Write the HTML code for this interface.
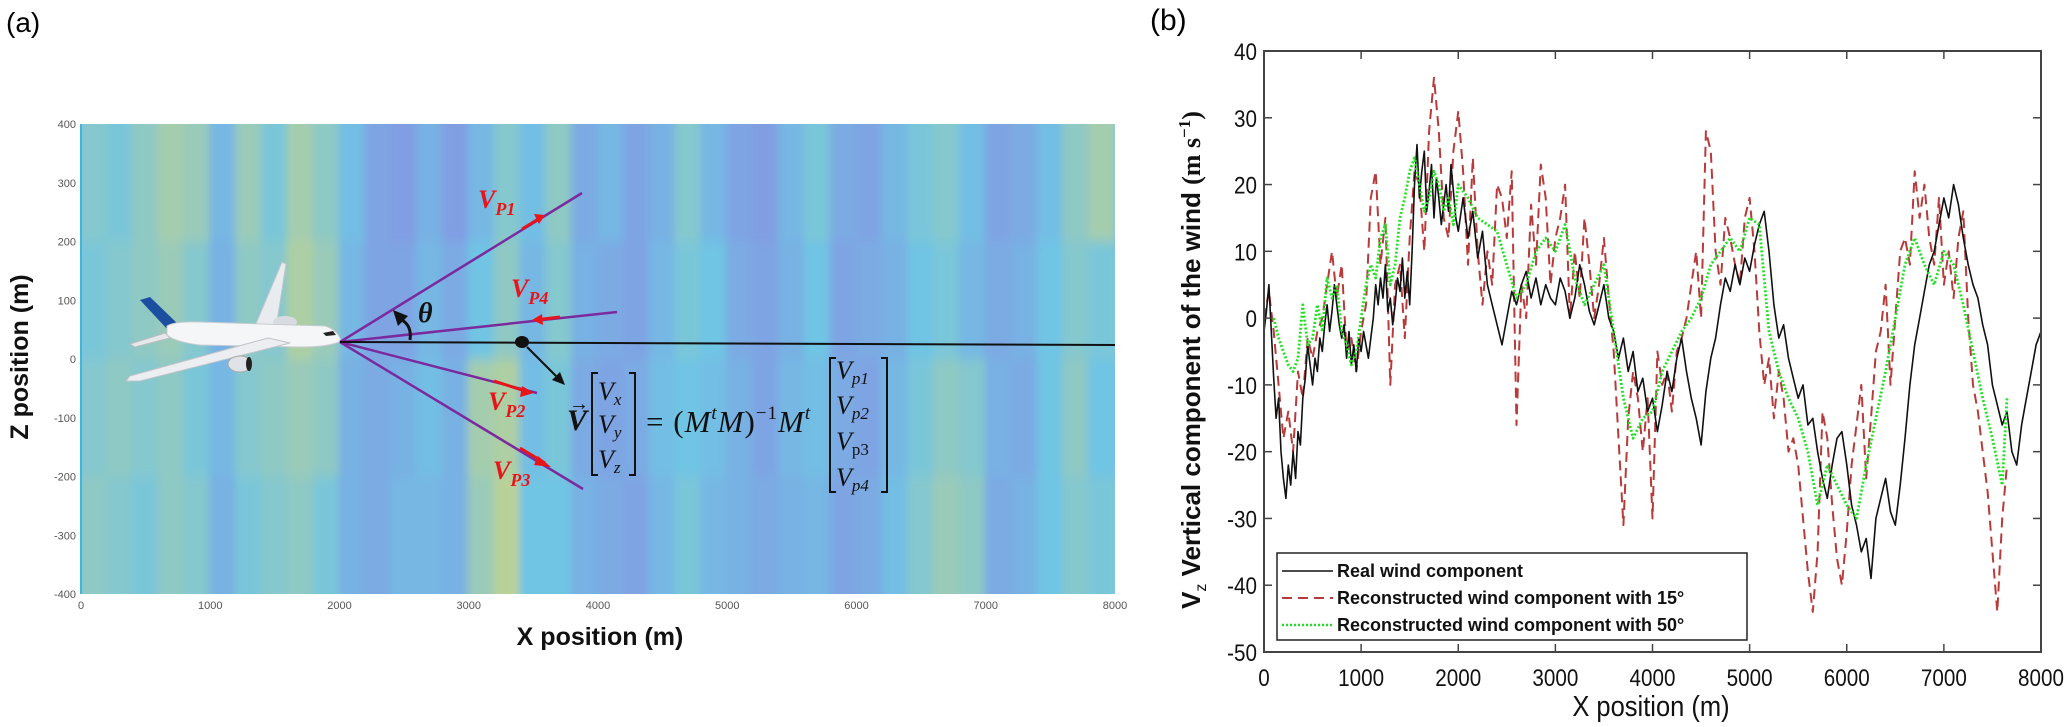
<!DOCTYPE html>
<html>
<head>
<meta charset="utf-8">
<style>
  html, body { margin: 0; padding: 0; background: #ffffff; }
  body { width: 2067px; height: 727px; overflow: hidden; }
  svg { display: block; }
  .tk { font-family: "Liberation Sans", sans-serif; }
</style>
</head>
<body>
<svg id="fig" width="2067" height="727" viewBox="0 0 2067 727" xmlns="http://www.w3.org/2000/svg">
  <defs>
    <filter id="soft" x="0" y="0" width="1" height="1">
      <feGaussianBlur stdDeviation="4 6"/>
    </filter>
    <clipPath id="clipA"><rect x="81" y="124" width="1034" height="470"/></clipPath>
    <clipPath id="clipB"><rect x="1264" y="51" width="777" height="601"/></clipPath>
  </defs>

  <!-- Panel (a) -->
  <g id="panelA">
    <text x="6" y="32" font-family="Liberation Sans, sans-serif" font-size="28" fill="#000">(a)</text>
    <rect x="81" y="124" width="1034" height="470" fill="#7ec3e3"/>
    <g id="heat" clip-path="url(#clipA)"></g>
    <line x1="81" y1="124" x2="81" y2="594" stroke="#3fb7d8" stroke-width="2"/>
    <g id="ticksA"></g>
    <text transform="translate(28,357) rotate(-90)" text-anchor="middle" font-family="Liberation Sans, sans-serif" font-size="25" font-weight="bold" fill="#111">Z position (m)</text>
    <text x="600" y="645" text-anchor="middle" font-family="Liberation Sans, sans-serif" font-size="25" font-weight="bold" fill="#111">X position (m)</text>

    <!-- airplane -->
    <g>
      <polygon points="255,326 282,262 286,264 276,328" fill="#e9ecef" stroke="#c2c6cc" stroke-width="1"/>
      <polygon points="140,300 150,297 180,326 168,330" fill="#1c4fa0"/>
      <polygon points="130,344 165,333 170,338 135,347" fill="#e6e8ec" stroke="#bbb" stroke-width="1"/>
      <ellipse cx="285" cy="322" rx="12" ry="6" fill="#d8dce2"/>
      <path d="M167,326 Q175,321 200,322 L325,326 Q338,330 341,341 Q330,347 300,347 L200,345 Q175,342 167,335 z" fill="#f4f6f8" stroke="#c8ccd2" stroke-width="1"/>
      <polygon points="268,338 130,376 126,381 140,381 290,343" fill="#eceef1" stroke="#c0c4ca" stroke-width="1"/>
      <ellipse cx="240" cy="364" rx="12" ry="8" fill="#dfe2e6" stroke="#aaa" stroke-width="1"/>
      <ellipse cx="249" cy="364" rx="3" ry="7" fill="#222"/>
      <path d="M323,333 L333,331 L336,335 L326,336 z" fill="#222"/>
    </g>

    <!-- lidar beams -->
    <g stroke="#7b2a9e" stroke-width="2.5">
      <line x1="340" y1="342" x2="582" y2="193"/>
      <line x1="340" y1="342" x2="617" y2="312"/>
      <line x1="340" y1="342" x2="537" y2="393"/>
      <line x1="340" y1="342" x2="583" y2="489"/>
    </g>
    <line x1="340" y1="342" x2="1115" y2="345" stroke="#111" stroke-width="2"/>
    <ellipse cx="522" cy="342" rx="7" ry="6" fill="#111"/>
    <line x1="527" y1="347" x2="558" y2="378" stroke="#111" stroke-width="2"/>
    <polygon points="565,385 552,380 560,372" fill="#111"/>

    <!-- red arrows on beams -->
    <g fill="#e8141a" stroke="#e8141a" stroke-width="3">
      <line x1="522" y1="229" x2="540" y2="218"/><polygon points="545,215 534,214 539,224" stroke="none"/>
      <line x1="560" y1="317" x2="535" y2="320"/><polygon points="532,320 542,314 543,325" stroke="none"/>
      <line x1="494" y1="381" x2="528" y2="392"/><polygon points="534,393 522,386 520,397" stroke="none"/>
      <line x1="520" y1="448" x2="545" y2="463"/><polygon points="551,467 538,456 534,465" stroke="none"/>
    </g>
    <g font-family="Liberation Serif, serif" font-style="italic" font-weight="bold" fill="#e8141a">
      <text x="478" y="208" font-size="26">V<tspan font-size="18" dy="7">P1</tspan></text>
      <text x="511" y="297" font-size="26">V<tspan font-size="18" dy="7">P4</tspan></text>
      <text x="488" y="410" font-size="26">V<tspan font-size="18" dy="7">P2</tspan></text>
      <text x="493" y="479" font-size="26">V<tspan font-size="18" dy="7">P3</tspan></text>
    </g>

    <!-- theta -->
    <path d="M410,340 Q412,326 402,320" fill="none" stroke="#111" stroke-width="3"/>
    <polygon points="393,310 408,316 398,326" fill="#111"/>
    <text x="418" y="322" font-family="Liberation Serif, serif" font-style="italic" font-weight="bold" font-size="28" fill="#111">θ</text>

    <!-- equation -->
    <g font-family="Liberation Serif, serif" fill="#111">
      <text x="567" y="430" font-size="30" font-style="italic" font-weight="bold">V</text>
      <text x="569" y="410" font-size="20" font-weight="bold">→</text>
      <path d="M598,373 L592,373 L592,475 L598,475 M629,373 L635,373 L635,475 L629,475" fill="none" stroke="#111" stroke-width="2"/>
      <text x="598" y="400" font-size="26" font-style="italic">V<tspan font-size="17" dy="5">x</tspan></text>
      <text x="598" y="433" font-size="26" font-style="italic">V<tspan font-size="17" dy="5">y</tspan></text>
      <text x="598" y="468" font-size="26" font-style="italic">V<tspan font-size="17" dy="5">z</tspan></text>
      <text x="646" y="432" font-size="31" letter-spacing="1">= (<tspan font-style="italic">M</tspan><tspan font-size="19" dy="-13" font-style="italic">t</tspan><tspan dy="13" font-style="italic">M</tspan>)<tspan font-size="19" dy="-13">−1</tspan><tspan dy="13" font-style="italic">M</tspan><tspan font-size="19" dy="-13" font-style="italic">t</tspan></text>
      <path d="M836,358 L830,358 L830,492 L836,492 M881,358 L887,358 L887,492 L881,492" fill="none" stroke="#111" stroke-width="2"/>
      <text x="836" y="379" font-size="26" font-style="italic">V<tspan font-size="17" dy="5">p1</tspan></text>
      <text x="836" y="414" font-size="26" font-style="italic">V<tspan font-size="17" dy="5">p2</tspan></text>
      <text x="836" y="450" font-size="26" font-style="italic">V<tspan font-size="17" dy="5" font-style="normal">p3</tspan></text>
      <text x="836" y="486" font-size="26" font-style="italic">V<tspan font-size="17" dy="5">p4</tspan></text>
    </g>
  </g>

  <!-- Panel (b) -->
  <g id="panelB">
    <text x="1150" y="30" font-family="Liberation Sans, sans-serif" font-size="30" fill="#000">(b)</text>
    <g id="seriesB" clip-path="url(#clipB)"></g>
    <rect x="1264" y="51" width="777" height="601" fill="none" stroke="#444" stroke-width="2"/>
    <g id="ticksB"></g>
    <text transform="translate(1200,360) rotate(-90)" text-anchor="middle" font-family="Liberation Sans, sans-serif" font-size="26" font-weight="bold" fill="#111">V<tspan font-size="16" dy="6" font-weight="normal">z</tspan><tspan dy="-6">  Vertical component of the wind </tspan><tspan font-family="Liberation Serif, serif">(m s</tspan><tspan font-family="Liberation Serif, serif" font-size="17" dy="-10">−1</tspan><tspan font-family="Liberation Serif, serif" dy="10">)</tspan></text>
    <text x="1651" y="716" text-anchor="middle" font-family="Liberation Sans, sans-serif" font-size="29" fill="#111" transform="translate(1651,0) scale(0.88,1) translate(-1651,0)">X position (m)</text>

    <g>
      <rect x="1277" y="553" width="470" height="87" fill="#fff" stroke="#222" stroke-width="1.5"/>
      <line x1="1282" y1="571" x2="1333" y2="571" stroke="#111" stroke-width="1.5"/>
      <line x1="1282" y1="598" x2="1333" y2="598" stroke="#b83a3a" stroke-width="2" stroke-dasharray="10,6"/>
      <line x1="1282" y1="625" x2="1333" y2="625" stroke="#22e022" stroke-width="2.5" stroke-dasharray="2,2"/>
      <g font-family="Liberation Sans, sans-serif" font-size="18" font-weight="bold" fill="#111">
        <text x="1337" y="577">Real wind component</text>
        <text x="1337" y="604">Reconstructed wind component with 15°</text>
        <text x="1337" y="631">Reconstructed wind component with 50°</text>
      </g>
    </g>
  </g>
</svg>

<script>
// ---------- Panel (a) heatmap data (tone -1 purple .. +1 yellow), columns of 200 m, rows of 200 m from top ----------
const heatRow0 = [0.2,0.1,0.3,0.5,0.4,-0.2,0.4,0.1,0.5,0.3,-0.1,-0.5,-0.6,-0.3,-0.6,-0.2,0.2,-0.1,0.3,-0.4,-0.2,-0.5,-0.3,0.2,-0.2,-0.5,-0.6,-0.2,0.1,-0.4,-0.5,-0.2,0.1,0.2,-0.1,-0.5,-0.4,-0.1,0.3,0.5];
const heatRow1 = [0.1,0.2,0.3,0.4,0.2,-0.3,0.3,0.2,0.6,0.4,-0.2,-0.5,-0.5,-0.2,-0.4,0.0,0.3,-0.2,0.2,-0.3,-0.4,-0.5,-0.2,0.1,0.0,-0.4,-0.5,-0.3,0.0,-0.5,-0.4,-0.3,0.0,0.1,-0.2,-0.4,-0.3,0.0,0.2,0.1];
const heatRow2 = [0.2,0.3,0.2,0.3,0.1,-0.2,0.2,0.3,0.4,0.3,-0.3,-0.4,-0.3,-0.1,-0.3,0.5,0.6,-0.1,0.1,-0.4,-0.5,-0.4,-0.1,0.0,-0.1,-0.3,-0.5,-0.2,-0.1,-0.4,-0.5,-0.2,0.1,0.3,0.2,-0.3,-0.4,0.0,0.3,0.0];
const heatRow3 = [0.3,0.2,0.1,0.3,0.2,-0.3,0.1,0.2,0.3,0.1,-0.3,-0.4,-0.2,-0.2,-0.3,0.4,0.7,0.0,0.0,-0.3,-0.4,-0.5,-0.2,0.1,-0.2,-0.3,-0.4,-0.3,-0.2,-0.5,-0.4,-0.1,0.2,0.4,0.3,-0.4,-0.3,0.0,0.2,0.1];
const heatRows = [heatRow0, heatRow1, heatRow2, heatRow3];
const xTicksA = [0,1000,2000,3000,4000,5000,6000,7000,8000];
const zTicksA = [400,300,200,100,0,-100,-200,-300,-400];

// ---------- Panel (b) data ----------
const xTicksB = [0,1000,2000,3000,4000,5000,6000,7000,8000];
const yTicksB = [40,30,20,10,0,-10,-20,-30,-40,-50];

const realX = [0,25,50,75,100,125,150,175,200,225,250,275,300,325,350,375,400,425,450,475,500,525,550,575,600,625,650,675,700,725,750,775,800,825,850,875,900,925,950,975,1000,1025,1050,1075,1100,1125,1150,1175,1200,1225,1250,1275,1300,1325,1350,1375,1400,1425,1450,1475,1500,1525,1550,1575,1600,1625,1650,1675,1700,1725,1750,1775,1800,1825,1850,1875,1900,1925,1950,1975,2000,2050,2100,2150,2200,2250,2300,2350,2400,2450,2500,2550,2600,2650,2700,2750,2800,2850,2900,2950,3000,3050,3100,3150,3200,3250,3300,3350,3400,3450,3500,3550,3600,3650,3700,3750,3800,3850,3900,3950,4000,4050,4100,4150,4200,4250,4300,4350,4400,4450,4500,4550,4600,4650,4700,4750,4800,4850,4900,4950,5000,5050,5100,5150,5200,5250,5300,5350,5400,5450,5500,5550,5600,5650,5700,5750,5800,5850,5900,5950,6000,6050,6100,6150,6200,6250,6300,6350,6400,6450,6500,6550,6600,6650,6700,6750,6800,6850,6900,6950,7000,7050,7100,7150,7200,7250,7300,7350,7400,7450,7500,7550,7600,7650,7700,7750,7800,7850,7900,7950,8000];
const realV = [-2,1,5,-2,-9,-15,-12,-20,-24,-27,-22,-25,-20,-24,-17,-19,-12,-9,-4,-7,-10,-6,-8,-3,-5,-1,2,-2,1,5,2,-1,-3,-1,-6,-2,-7,-4,-8,-3,-5,-2,-4,-6,-3,0,5,2,6,3,8,1,3,-1,2,6,4,9,3,7,2,10,20,26,18,22,25,16,19,23,15,21,18,14,17,20,16,23,19,15,13,18,12,16,9,13,5,2,-1,-4,0,4,2,5,7,3,6,2,5,3,2,6,4,0,3,8,5,1,-1,2,5,0,-2,-6,-3,-8,-5,-11,-9,-14,-12,-17,-13,-8,-11,-6,-3,-8,-12,-15,-19,-11,-6,-3,2,6,4,8,5,9,7,11,14,16,10,2,-3,-1,-6,-9,-12,-10,-16,-15,-20,-24,-27,-22,-18,-17,-22,-28,-31,-35,-33,-39,-30,-27,-24,-29,-31,-25,-18,-10,-4,0,4,8,10,14,18,15,20,17,12,8,5,3,-1,-4,-10,-13,-16,-14,-20,-22,-16,-12,-8,-4,-2,-6,-3,-1,-3,-2,-3];

const rec15X = [0,50,100,150,200,250,300,350,400,450,500,550,600,650,700,750,800,850,900,950,1000,1050,1100,1150,1200,1250,1300,1350,1400,1450,1500,1550,1600,1650,1700,1750,1800,1850,1900,1950,2000,2050,2100,2150,2200,2250,2300,2350,2400,2450,2500,2550,2600,2650,2700,2750,2800,2850,2900,2950,3000,3050,3100,3150,3200,3250,3300,3350,3400,3450,3500,3550,3600,3650,3700,3750,3800,3850,3900,3950,4000,4050,4100,4150,4200,4250,4300,4350,4400,4450,4500,4550,4600,4650,4700,4750,4800,4850,4900,4950,5000,5050,5100,5150,5200,5250,5300,5350,5400,5450,5500,5550,5600,5650,5700,5750,5800,5850,5900,5950,6000,6050,6100,6150,6200,6250,6300,6350,6400,6450,6500,6550,6600,6650,6700,6750,6800,6850,6900,6950,7000,7050,7100,7150,7200,7250,7300,7350,7400,7450,7500,7550,7600,7650];
const rec15V = [0,4,-2,-10,-18,-14,-20,-8,-12,-3,-6,-2,0,5,10,3,8,-5,-3,-8,-2,2,18,22,8,15,-10,5,8,-3,12,22,20,10,28,36,28,15,12,25,31,22,8,24,10,2,10,5,20,18,12,22,-16,5,0,17,8,23,18,5,12,15,20,0,10,3,15,8,0,5,12,3,-5,-18,-31,-15,-8,-12,-20,-12,-30,-5,-10,-8,-14,-5,-3,0,5,10,0,28,25,10,5,15,12,8,5,15,18,10,-2,-10,-6,-15,-8,-12,-20,-18,-22,-30,-38,-44,-35,-14,-18,-28,-36,-40,-32,-22,-16,-10,-24,-15,-5,-2,5,-10,0,10,12,8,22,15,20,12,8,18,5,10,3,12,16,0,-10,-14,-20,-26,-35,-44,-30,-22];

const rec50X = [100,150,200,250,300,350,400,450,500,550,600,650,700,750,800,850,900,950,1000,1050,1100,1150,1200,1250,1300,1350,1400,1450,1500,1550,1600,1650,1700,1750,1800,1850,1900,1950,2000,2100,2200,2300,2400,2500,2600,2700,2800,2900,3000,3100,3200,3300,3400,3500,3600,3700,3800,3900,4000,4100,4200,4300,4400,4500,4600,4700,4800,4900,5000,5100,5200,5300,5400,5500,5600,5700,5800,5900,6000,6100,6200,6300,6400,6500,6600,6700,6800,6900,7000,7100,7200,7300,7400,7500,7600,7650];
const rec50V = [0,-3,-5,-7,-8,-6,2,-4,-3,2,-2,6,3,5,-2,-4,-7,-5,0,5,8,6,12,14,5,8,15,18,22,24,20,16,18,22,20,16,18,14,20,18,15,14,13,8,3,5,10,12,10,14,6,2,5,8,-2,-12,-18,-15,-14,-8,-5,-2,0,3,8,10,12,10,15,14,-2,-8,-12,-15,-20,-28,-22,-25,-28,-30,-22,-15,-8,0,8,12,8,5,10,8,2,-5,-12,-18,-25,-12];

// ---------- helpers ----------
const NS = "http://www.w3.org/2000/svg";
const axA = { x0: 81, x1: 1115, y0: 124, y1: 594 };
function xA(m) { return axA.x0 + (m / 8000) * (axA.x1 - axA.x0); }
function zA(z) { return axA.y0 + ((400 - z) / 800) * (axA.y1 - axA.y0); }
const axB = { x0: 1264, x1: 2041, y0: 51, y1: 652 };
function xB(m) { return axB.x0 + (m / 8000) * (axB.x1 - axB.x0); }
function yB(v) { return axB.y0 + ((40 - v) / 90) * (axB.y1 - axB.y0); }
function toneColor(t) {
  const mid = [112, 196, 228], lo = [140, 132, 226], hi = [216, 214, 120];
  const tgt = t < 0 ? lo : hi, a = Math.min(1, Math.abs(t));
  return "rgb(" + mid.map((c, i) => Math.round(c + (tgt[i] - c) * a)).join(",") + ")";
}

// ---------- heatmap ----------
const heat = document.getElementById("heat");
const hg = document.createElementNS(NS, "g");
hg.setAttribute("filter", "url(#soft)");
heat.appendChild(hg);
heatRows.forEach((row, r) => {
  row.forEach((t, c) => {
    const rect = document.createElementNS(NS, "rect");
    const zTop = 400 - r * 200, xm = c * 200;
    rect.setAttribute("x", xA(xm) - 1);
    rect.setAttribute("y", zA(zTop) - (r === 0 ? 20 : 0));
    rect.setAttribute("width", xA(xm + 200) - xA(xm) + 2);
    rect.setAttribute("height", zA(zTop - 200) - zA(zTop) + (r === 0 || r === 3 ? 20 : 0));
    rect.setAttribute("fill", toneColor(t));
    
    
    hg.appendChild(rect);
  });
});

// ---------- panel a ticks ----------
const ticksA = document.getElementById("ticksA");
xTicksA.forEach(v => {
  const t = document.createElementNS(NS, "text");
  t.setAttribute("x", xA(v)); t.setAttribute("y", 609);
  t.setAttribute("text-anchor", "middle");
  t.setAttribute("class", "tk"); t.setAttribute("font-size", "11"); t.setAttribute("fill", "#555");
  t.textContent = v;
  
  
  ticksA.appendChild(t);
});
zTicksA.forEach(v => {
  const t = document.createElementNS(NS, "text");
  t.setAttribute("x", 76); t.setAttribute("y", zA(v) + 4);
  t.setAttribute("text-anchor", "end");
  t.setAttribute("class", "tk"); t.setAttribute("font-size", "11"); t.setAttribute("fill", "#555");
  t.textContent = v;
  
  
  ticksA.appendChild(t);
});

// ---------- panel b ticks ----------
const ticksB = document.getElementById("ticksB");
xTicksB.forEach(v => {
  const x = xB(v);
  [[axB.y1, axB.y1 - 8], [axB.y0, axB.y0 + 8]].forEach(([a, b]) => {
    const l = document.createElementNS(NS, "line");
    l.setAttribute("x1", x); l.setAttribute("x2", x); l.setAttribute("y1", a); l.setAttribute("y2", b);
    l.setAttribute("stroke", "#444"); l.setAttribute("stroke-width", "1.5");
    
    
    ticksB.appendChild(l);
  });
  const t = document.createElementNS(NS, "text");
  t.setAttribute("x", x); t.setAttribute("y", 686);
  t.setAttribute("text-anchor", "middle");
  t.setAttribute("class", "tk"); t.setAttribute("font-size", "24"); t.setAttribute("fill", "#111");
  t.setAttribute("transform", "translate(" + x + ",0) scale(0.86,1) translate(" + (-x) + ",0)");
  t.textContent = v;
  
  
  ticksB.appendChild(t);
});
yTicksB.forEach(v => {
  const y = yB(v);
  [[axB.x0, axB.x0 + 8], [axB.x1, axB.x1 - 8]].forEach(([a, b]) => {
    const l = document.createElementNS(NS, "line");
    l.setAttribute("x1", a); l.setAttribute("x2", b); l.setAttribute("y1", y); l.setAttribute("y2", y);
    l.setAttribute("stroke", "#444"); l.setAttribute("stroke-width", "1.5");
    
    
    ticksB.appendChild(l);
  });
  const t = document.createElementNS(NS, "text");
  t.setAttribute("x", 1257); t.setAttribute("y", y + 9);
  t.setAttribute("text-anchor", "end");
  t.setAttribute("class", "tk"); t.setAttribute("font-size", "24"); t.setAttribute("fill", "#111");
  t.setAttribute("transform", "translate(1257,0) scale(0.86,1) translate(-1257,0)");
  t.textContent = v;
  
  
  ticksB.appendChild(t);
});

// ---------- panel b series ----------
const seriesB = document.getElementById("seriesB");
function addSeries(xs, vs, stroke, width, dash) {
  const p = document.createElementNS(NS, "polyline");
  p.setAttribute("points", xs.map((m, i) => xB(m).toFixed(1) + "," + yB(vs[i]).toFixed(1)).join(" "));
  p.setAttribute("fill", "none");
  p.setAttribute("stroke", stroke);
  p.setAttribute("stroke-width", width);
  p.setAttribute("stroke-linejoin", "round");
  if (dash) p.setAttribute("stroke-dasharray", dash);
  seriesB.appendChild(p);
  return p;
}
const s15 = addSeries(rec15X, rec15V, "#b83a3a", 2, "10,6");


const sReal = addSeries(realX, realV, "#111", 1.6, null);


const s50 = addSeries(rec50X, rec50V, "#22e022", 2.8, "2,2");


</script>
</body>
</html>
